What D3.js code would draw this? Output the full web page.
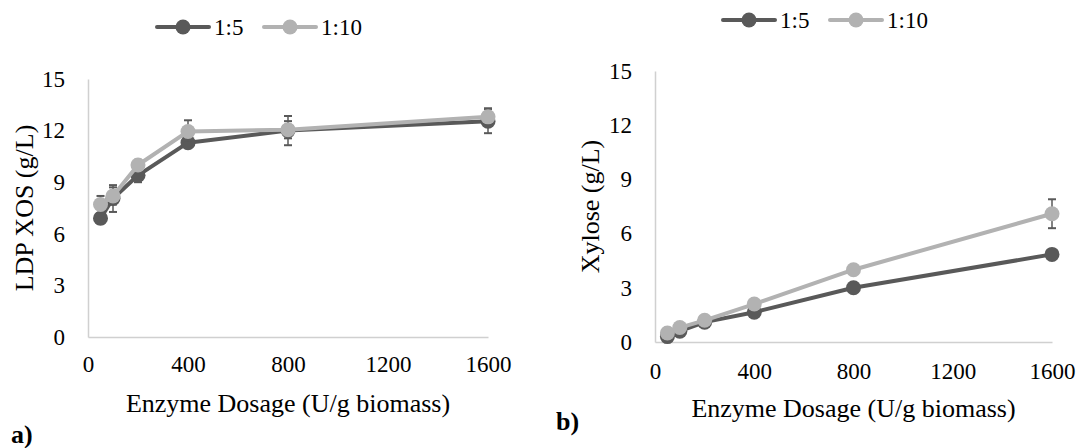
<!DOCTYPE html>
<html>
<head>
<meta charset="utf-8">
<script src="https://cdn.jsdelivr.net/npm/d3@7"></script>
<style>
  html, body { margin: 0; padding: 0; background: #fff; }
  svg { display: block; }
  text { font-family: "Liberation Serif", "Times New Roman", serif; fill: #000; }
</style>
</head>
<body>
<svg id="chart" width="1079" height="448"></svg>
<script>
// Enzyme dosages (U/g biomass)
const dosage = [50, 100, 200, 400, 800, 1600];
const seriesNames = ["1:5", "1:10"];
const xTicks = [0, 400, 800, 1200, 1600];
const yTicks = [0, 3, 6, 9, 12, 15];

// Panel a: LDP XOS (g/L)
const xosRatio5  = [6.9, 8.05, 9.4, 11.3, 12.0, 12.55];
const xosRatio10 = [7.7, 8.2, 10.0, 11.95, 12.05, 12.8];
const xosErr5    = [0.3, 0.78, 0.4, 0.3, 0.85, 0.7];
const xosErr10   = [0.5, 0.5, 0.3, 0.65, 0.5, 0.5];

// Panel b: Xylose (g/L)
const xylRatio5  = [0.3, 0.6, 1.1, 1.65, 3.0, 4.85];
const xylRatio10 = [0.5, 0.8, 1.2, 2.1, 4.0, 7.1];
const xylErr5    = [0, 0, 0, 0, 0, 0];
const xylErr10   = [0, 0, 0, 0, 0, 0.8];

const colors = ["#595959", "#b2b2b2"];
const axisColor = "#d0d0d0";
const errColor = "#595959";
const serif = '"Liberation Serif", "Times New Roman", serif';

const svg = d3.select("#chart");

function drawPanel(cfg) {
  const x = d3.scaleLinear().domain([0, 1600]).range(cfg.xRange);
  const y = d3.scaleLinear().domain([0, 15]).range(cfg.yRange);
  const g = svg.append("g");

  // axes
  const yAxis = g.append("g")
    .attr("transform", `translate(${cfg.xRange[0]},0)`)
    .call(d3.axisLeft(y).tickValues(yTicks).tickFormat(d3.format("d"))
      .tickSize(0).tickSizeOuter(0).tickPadding(23));
  const xAxis = g.append("g")
    .attr("transform", `translate(0,${cfg.yRange[0]})`)
    .call(d3.axisBottom(x).tickValues(xTicks).tickFormat(d3.format("d"))
      .tickSize(0).tickSizeOuter(0).tickPadding(cfg.xPad));
  [yAxis, xAxis].forEach(a => {
    a.attr("font-family", serif);
    a.select(".domain").attr("stroke", axisColor).attr("stroke-width", 1.5);
    a.selectAll("text").style("font-size", "23px").style("font-family", serif).attr("fill", "#000");
  });

  // axis titles
  g.append("text")
    .attr("x", (cfg.xRange[0] + cfg.xRange[1]) / 2)
    .attr("y", cfg.xTitleY)
    .attr("text-anchor", "middle")
    .style("font-size", "26px")
    .text("Enzyme Dosage (U/g biomass)");
  g.append("text")
    .attr("transform", `translate(${cfg.yTitleX},${(cfg.yRange[0] + cfg.yRange[1]) / 2}) rotate(-90)`)
    .attr("text-anchor", "middle")
    .attr("dy", "0.35em")
    .style("font-size", "26px")
    .text(cfg.yTitle);

  // panel letter
  g.append("text")
    .attr("x", cfg.letterPos[0]).attr("y", cfg.letterPos[1])
    .style("font-size", "26px").style("font-weight", "bold")
    .text(cfg.letter);

  const line = d3.line().x(d => x(d.x)).y(d => y(d.y));

  cfg.series.forEach((vals, si) => {
    const pts = dosage.map((d, i) => ({ x: d, y: vals[i], e: cfg.errs[si][i] }));
    const sg = g.append("g");
    // error bars
    const eb = sg.selectAll(".eb").data(pts.filter(p => p.e > 0)).join("g");
    eb.append("line")
      .attr("x1", p => x(p.x)).attr("x2", p => x(p.x))
      .attr("y1", p => y(p.y - p.e)).attr("y2", p => y(p.y + p.e))
      .attr("stroke", errColor).attr("stroke-width", 1.5);
    [-1, 1].forEach(s => {
      eb.append("line")
        .attr("x1", p => x(p.x) - 4).attr("x2", p => x(p.x) + 4)
        .attr("y1", p => y(p.y + s * p.e)).attr("y2", p => y(p.y + s * p.e))
        .attr("stroke", errColor).attr("stroke-width", 2);
    });
    // line + markers
    sg.append("path").datum(pts)
      .attr("d", line).attr("fill", "none")
      .attr("stroke", colors[si]).attr("stroke-width", 4)
      .attr("stroke-linejoin", "round").attr("stroke-linecap", "round");
    sg.selectAll("circle").data(pts).join("circle")
      .attr("cx", p => x(p.x)).attr("cy", p => y(p.y)).attr("r", 7.5)
      .attr("fill", colors[si]);
  });

  // legend
  const lg = g.append("g");
  seriesNames.forEach((name, i) => {
    const lx = cfg.legendX[i], ly = cfg.legendY;
    lg.append("line").attr("x1", lx).attr("x2", lx + 52).attr("y1", ly).attr("y2", ly)
      .attr("stroke", colors[i]).attr("stroke-width", 4).attr("stroke-linecap", "round");
    lg.append("circle").attr("cx", lx + 26).attr("cy", ly).attr("r", 7.5).attr("fill", colors[i]);
    lg.append("text").attr("x", lx + 57).attr("y", ly).attr("dy", "0.35em")
      .style("font-size", "23px").text(name);
  });
}

drawPanel({
  xRange: [88, 488], yRange: [337, 79], xPad: 19,
  xTitleY: 412, yTitleX: 24, yTitle: "LDP XOS (g/L)",
  letter: "a)", letterPos: [11, 443],
  series: [xosRatio5, xosRatio10], errs: [xosErr5, xosErr10],
  legendX: [157, 264], legendY: 27
});

drawPanel({
  xRange: [655, 1052], yRange: [342, 71], xPad: 21,
  xTitleY: 417, yTitleX: 590, yTitle: "Xylose (g/L)",
  letter: "b)", letterPos: [556, 430],
  series: [xylRatio5, xylRatio10], errs: [xylErr5, xylErr10],
  legendX: [723, 830], legendY: 20
});
</script>
</body>
</html>
